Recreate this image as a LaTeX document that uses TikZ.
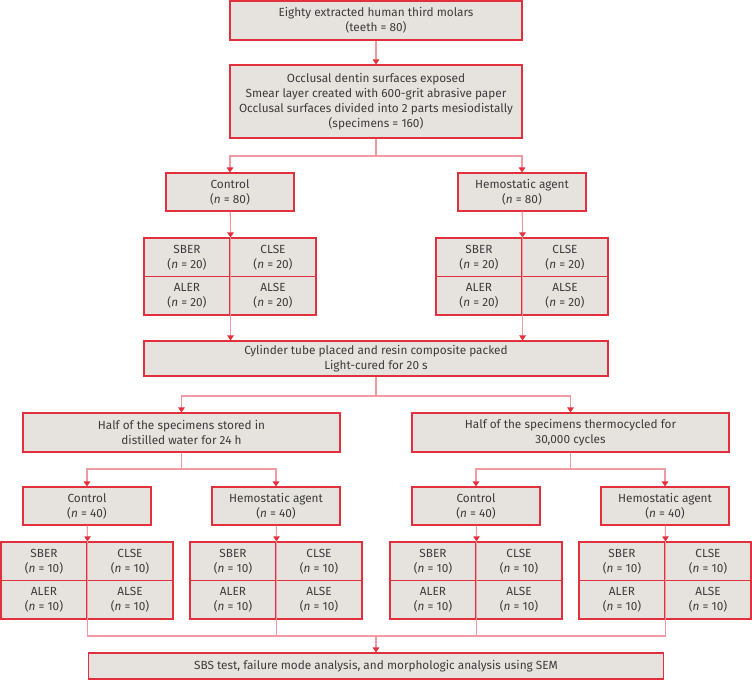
\documentclass[tikz,border=0pt]{standalone}
\usepackage{fontspec}
\setmainfont{Fira Sans}
\usepackage{xcolor}
\usepackage{tikz}
\usetikzlibrary{arrows.meta, positioning}

\definecolor{boxred}{HTML}{E3303D}
\definecolor{linkpink}{HTML}{F29AA3}
\definecolor{boxfill}{HTML}{E6E3DF}
\definecolor{txtgray}{HTML}{3C3C3C}

\begin{document}
\begin{tikzpicture}[x=1pt, y=-1pt,
    box/.style={draw=boxred, fill=boxfill, line width=1.1pt, align=center,
        text=txtgray, inner sep=0pt, font=\fontsize{11.8}{15}\selectfont},
    cell/.style={box, minimum width=86pt, minimum height=38.5pt},
    link/.style={draw=linkpink, line width=1.1pt},
    arr/.style={link, -{Triangle[length=5pt, width=6.5pt, color=boxred]}}]

\def\nn{\textit{n}}

\useasboundingbox (0,0) rectangle (752,681);

% ============================================================
% TOP: preparation
% ============================================================

\node[box, minimum width=292pt, minimum height=39pt] (teeth) at (376, 20.5)
    {Eighty extracted human third molars\\(teeth = 80)};
\node[box, minimum width=292pt, minimum height=73pt] (expose) at (376, 101.5)
    {Occlusal dentin surfaces exposed\\
     Smear layer created with 600-grit abrasive paper\\
     Occlusal surfaces divided into 2 parts mesiodistally\\
     (specimens = 160)};

\node[box, minimum width=128pt, minimum height=38pt] (ctlA) at (230, 192)
    {Control\\(\nn{} = 80)};
\node[box, minimum width=128pt, minimum height=38pt] (hemA) at (522, 192)
    {Hemostatic agent\\(\nn{} = 80)};

% adhesive groups, 2 x 2
\foreach \g/\cx in {A/230, B/522} {
    \node[cell] (sber\g) at (\cx-43, 257.25) {SBER\\(\nn{} = 20)};
    \node[cell] (clse\g) at (\cx+43, 257.25) {CLSE\\(\nn{} = 20)};
    \node[cell] (aler\g) at (\cx-43, 295.75) {ALER\\(\nn{} = 20)};
    \node[cell] (alse\g) at (\cx+43, 295.75) {ALSE\\(\nn{} = 20)};
}

\node[box, minimum width=464pt, minimum height=35pt] (cyl) at (376, 358.5)
    {Cylinder tube placed and resin composite packed\\Light-cured for 20 s};

% ============================================================
% BOTTOM: storage
% ============================================================

\node[box, minimum width=317pt, minimum height=39pt] (water) at (181.5, 432.5)
    {Half of the specimens stored in\\distilled water for 24 h};
\node[box, minimum width=317pt, minimum height=39pt] (thermo) at (570.5, 432.5)
    {Half of the specimens thermocycled for\\30,000 cycles};

\node[box, minimum width=128pt, minimum height=38pt] (ctlW) at (87, 506)
    {Control\\(\nn{} = 40)};
\node[box, minimum width=128pt, minimum height=38pt] (hemW) at (276, 506)
    {Hemostatic agent\\(\nn{} = 40)};
\node[box, minimum width=128pt, minimum height=38pt] (ctlT) at (476, 506)
    {Control\\(\nn{} = 40)};
\node[box, minimum width=128pt, minimum height=38pt] (hemT) at (665, 506)
    {Hemostatic agent\\(\nn{} = 40)};

\foreach \g/\cx in {Wc/87, Wh/276, Tc/476, Th/665} {
    \node[cell] (sber\g) at (\cx-43, 561.25) {SBER\\(\nn{} = 10)};
    \node[cell] (clse\g) at (\cx+43, 561.25) {CLSE\\(\nn{} = 10)};
    \node[cell] (aler\g) at (\cx-43, 599.75) {ALER\\(\nn{} = 10)};
    \node[cell] (alse\g) at (\cx+43, 599.75) {ALSE\\(\nn{} = 10)};
}

\node[box, minimum width=575pt, minimum height=26pt] (sbs) at (376, 666)
    {SBS test, failure mode analysis, and morphologic analysis using SEM};

% ============================================================
% connectors
% ============================================================

\coordinate (splitA) at (376, 156);
\coordinate (splitB) at (376, 396);
\coordinate (splitW) at (181.5, 469);
\coordinate (splitT) at (570.5, 469);
\coordinate (join)   at (376, 636);

\draw[arr] (teeth) -- (expose);
\draw[link] (expose) -- (splitA);
\draw[arr] (splitA) -| (ctlA.north);
\draw[arr] (splitA) -| (hemA.north);

\draw[arr] (ctlA) -- (sberA.north east);
\draw[arr] (hemA) -- (sberB.north east);
\foreach \g in {A, B} {
    \draw[link] (sber\g.north east) -- (aler\g.south east);
    \draw[arr] (aler\g.south east) -- (aler\g.south east |- cyl.north);
}

\draw[link] (cyl) -- (splitB);
\draw[arr] (splitB) -| (water.north);
\draw[arr] (splitB) -| (thermo.north);

\draw[link] (water) -- (splitW);
\draw[arr] (splitW) -| (ctlW.north);
\draw[arr] (splitW) -| (hemW.north);
\draw[link] (thermo) -- (splitT);
\draw[arr] (splitT) -| (ctlT.north);
\draw[arr] (splitT) -| (hemT.north);

\draw[arr] (ctlW) -- (sberWc.north east);
\draw[arr] (hemW) -- (sberWh.north east);
\draw[arr] (ctlT) -- (sberTc.north east);
\draw[arr] (hemT) -- (sberTh.north east);
\foreach \g in {Wc, Wh, Tc, Th} {
    \draw[link] (sber\g.north east) -- (aler\g.south east);
    \draw[link] (aler\g.south east) |- (join);
}

\draw[arr] (join) -- (sbs);

\end{tikzpicture}
\end{document}
